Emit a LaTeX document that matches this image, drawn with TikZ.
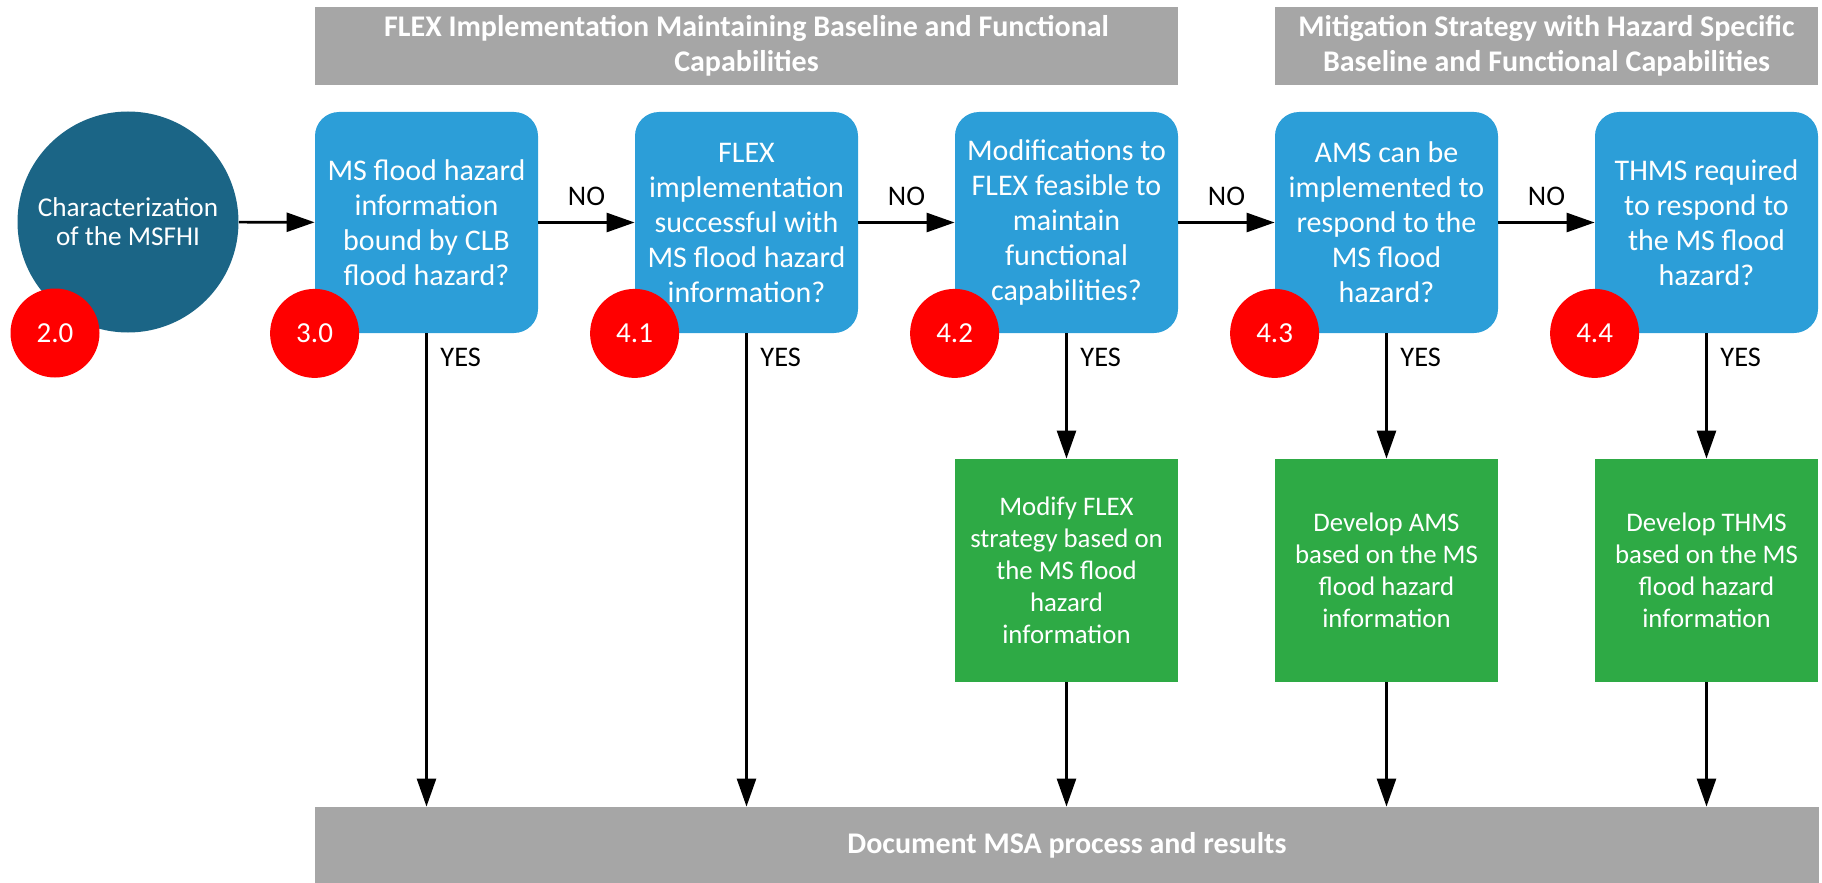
\documentclass[tikz,border=0pt]{standalone}
\usepackage{fontspec}
\setmainfont{Carlito}
\usetikzlibrary{arrows.meta}
\definecolor{darkteal}{RGB}{27,101,134}
\definecolor{boxblue}{RGB}{44,158,216}
\definecolor{boxgreen}{RGB}{46,170,69}
\definecolor{bargrey}{RGB}{166,166,166}

\begin{document}
\begin{tikzpicture}[x=0.5pt, y=-0.5pt,
		question/.style={fill=boxblue, rounded corners=12pt, minimum width=111.5pt, minimum height=110.5pt, inner sep=0pt, text=white, align=center, font=\fontsize{15}{17.5}\selectfont},
		action/.style={fill=boxgreen, minimum width=111.5pt, minimum height=111.5pt, inner sep=0pt, text=white, align=center, font=\fontsize{13.4}{16}\selectfont},
		banner/.style={fill=bargrey, inner sep=0pt, text=white, align=center, font=\fontsize{15}{17.5}\selectfont\bfseries},
		tag/.style={circle, fill=red, minimum size=44.5pt, inner sep=0pt, text=white, font=\fontsize{14.5}{17}\selectfont},
		flow/.style={-{Triangle[length=14pt, width=9.5pt]}, line width=1.3pt},
		answer/.style={font=\fontsize{14.2}{16}\selectfont}]
		\useasboundingbox (0,0) rectangle (1822,883);

		% headings
		\node[banner, minimum width=431.5pt, minimum height=39pt] (flexhead) at (746.5,46) {FLEX Implementation Maintaining Baseline and Functional\\Capabilities};
		\node[banner, minimum width=271.5pt, minimum height=39pt] (mitighead) at (1546.5,46) {Mitigation Strategy with Hazard Specific\\Baseline and Functional Capabilities};
		\node[banner, minimum width=752pt, minimum height=38pt] (doc) at (1067,845) {Document MSA process and results};

		% start
		\node[circle, fill=darkteal, minimum size=110.5pt, inner sep=0pt, text=white, align=center, font=\fontsize{13.6}{14.5}\selectfont] (msfhi) at (128,222) {Characterization\\of the MSFHI};

		% decisions
		\node[question] (q30) at (426.5,222.5) {MS flood hazard\\information\\bound by CLB\\flood hazard?};
		\node[question] (q41) at (746.5,222.5) {FLEX\\implementation\\successful with\\MS flood hazard\\information?};
		\node[question] (q42) at (1066.5,222.5) {Modifications to\\FLEX feasible to\\maintain\\functional\\capabilities?};
		\node[question] (q43) at (1386.5,222.5) {AMS can be\\implemented to\\respond to the\\MS flood\\hazard?};
		\node[question] (q44) at (1706.5,222.5) {THMS required\\to respond to\\the MS flood\\hazard?};

		% actions
		\node[action] (a42) at (1066.5,570.5) {Modify FLEX\\strategy based on\\the MS flood\\hazard\\information};
		\node[action] (a43) at (1386.5,570.5) {Develop AMS\\based on the MS\\flood hazard\\information};
		\node[action] (a44) at (1706.5,570.5) {Develop THMS\\based on the MS\\flood hazard\\information};

		% step numbers
		\node[tag] (t20) at (55,333) {2.0};
		\node[tag] (t30) at (q30.south west) {3.0};
		\node[tag] (t41) at (q41.south west) {4.1};
		\node[tag] (t42) at (q42.south west) {4.2};
		\node[tag] (t43) at (q43.south west) {4.3};
		\node[tag] (t44) at (q44.south west) {4.4};

		% connectors
		\draw[flow] (msfhi) -- (q30);
		\draw[flow] (q30) -- node[answer, above=4.5pt]{NO} (q41);
		\draw[flow] (q41) -- node[answer, above=4.5pt]{NO} (q42);
		\draw[flow] (q42) -- node[answer, above=4.5pt]{NO} (q43);
		\draw[flow] (q43) -- node[answer, above=4.5pt]{NO} (q44);

		\draw[flow] (q30.south) -- node[answer, right=3pt, pos=0.05]{YES} (q30.south |- doc.north);
		\draw[flow] (q41.south) -- node[answer, right=3pt, pos=0.05]{YES} (q41.south |- doc.north);
		\draw[flow] (q42) -- node[answer, right=3pt, pos=0.19]{YES} (a42);
		\draw[flow] (q43) -- node[answer, right=3pt, pos=0.19]{YES} (a43);
		\draw[flow] (q44) -- node[answer, right=3pt, pos=0.19]{YES} (a44);

		\draw[flow] (a42) -- (a42 |- doc.north);
		\draw[flow] (a43) -- (a43 |- doc.north);
		\draw[flow] (a44) -- (a44 |- doc.north);
	\end{tikzpicture}
\end{document}
